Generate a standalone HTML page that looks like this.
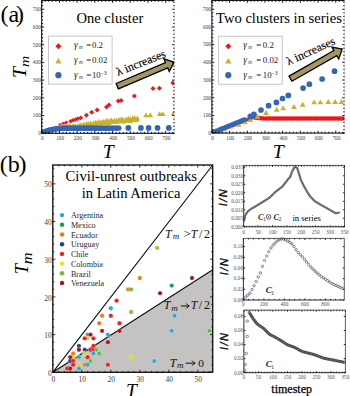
<!DOCTYPE html>
<html><head><meta charset="utf-8"><style>html,body{margin:0;padding:0;background:#fff;width:350px;height:396px;overflow:hidden;position:relative}</style></head>
<body><svg width="350" height="396" viewBox="0 0 350 396" style="position:absolute;left:0;top:0;font-family:&quot;Liberation Serif&quot;,serif"><rect width="350" height="396" fill="#fff"/><defs><clipPath id="ca1"><rect x="41.7" y="0" width="132.8" height="133.3"/></clipPath><clipPath id="ca2"><rect x="211.9" y="0" width="132.7" height="133.1"/></clipPath></defs><text x="0.5" y="22.1" style="font-size:24px">(a<tspan dx="-3.2">)</tspan></text><g clip-path="url(#ca1)"><path d="M59.9 122.8L61.7 124.6L59.9 126.4L58.1 124.6Z" fill="#e8191f"/><path d="M63.3 121.6L65.3 123.6L63.3 125.6L61.3 123.6Z" fill="#e8191f"/><path d="M66.2 120.4L68.3 122.5L66.2 124.6L64.1 122.5Z" fill="#e8191f"/><path d="M70.6 118.9L72.9 121.2L70.6 123.5L68.3 121.2Z" fill="#e8191f"/><path d="M73 118L75.3 120.3L73 122.6L70.7 120.3Z" fill="#e8191f"/><path d="M75.4 117.3L77.7 119.6L75.4 121.9L73.1 119.6Z" fill="#e8191f"/><path d="M77.8 116.3L80.2 118.7L77.8 121.1L75.4 118.7Z" fill="#e8191f"/><path d="M80.8 115.4L83.2 117.8L80.8 120.2L78.4 117.8Z" fill="#e8191f"/><path d="M86.4 112.7L88.9 115.2L86.4 117.7L83.9 115.2Z" fill="#e8191f"/><path d="M91.7 109.8L94.2 112.3L91.7 114.8L89.2 112.3Z" fill="#e8191f"/><path d="M97.2 107.4L99.7 109.9L97.2 112.4L94.7 109.9Z" fill="#e8191f"/><path d="M106.5 104.6L109 107.1L106.5 109.6L104 107.1Z" fill="#e8191f"/><path d="M109 102.6L111.5 105.1L109 107.6L106.5 105.1Z" fill="#e8191f"/><path d="M118.3 98.4L120.8 100.9L118.3 103.4L115.8 100.9Z" fill="#e8191f"/><path d="M121.1 98.1L123.6 100.6L121.1 103.1L118.6 100.6Z" fill="#e8191f"/><path d="M134.3 93.5L136.8 96L134.3 98.5L131.8 96Z" fill="#e8191f"/><path d="M153 86L155.5 88.5L153 91L150.5 88.5Z" fill="#e8191f"/><path d="M159.4 85.7L161.9 88.2L159.4 90.7L156.9 88.2Z" fill="#e8191f"/><path d="M172.8 80.5L175.3 83L172.8 85.5L170.3 83Z" fill="#e8191f"/><path d="M59.24 123.8L61.94 128.6L56.54 128.6Z" fill="#c9b22a"/><path d="M59.44 123.8L62.14 128.6L56.74 128.6Z" fill="#c9b22a"/><path d="M61.72 123.8L64.42 128.6L59.02 128.6Z" fill="#c9b22a"/><path d="M61.27 123.8L63.97 128.6L58.57 128.6Z" fill="#c9b22a"/><path d="M63.75 123.8L66.45 128.6L61.05 128.6Z" fill="#c9b22a"/><path d="M63.21 123.8L65.91 128.6L60.51 128.6Z" fill="#c9b22a"/><path d="M65.65 123.8L68.35 128.6L62.95 128.6Z" fill="#c9b22a"/><path d="M65.97 123.8L68.67 128.6L63.27 128.6Z" fill="#c9b22a"/><path d="M67.92 123.8L70.62 128.6L65.22 128.6Z" fill="#c9b22a"/><path d="M68.62 123.8L71.32 128.6L65.92 128.6Z" fill="#c9b22a"/><path d="M70.16 123.8L72.86 128.6L67.46 128.6Z" fill="#c9b22a"/><path d="M70.14 123.8L72.84 128.6L67.44 128.6Z" fill="#c9b22a"/><path d="M72.43 123.8L75.13 128.6L69.73 128.6Z" fill="#c9b22a"/><path d="M73.17 123.8L75.87 128.6L70.47 128.6Z" fill="#c9b22a"/><path d="M74.82 123.25L77.52 128.05L72.12 128.05Z" fill="#c9b22a"/><path d="M75.47 123.8L78.17 128.6L72.77 128.6Z" fill="#c9b22a"/><path d="M77.86 122.9L80.56 127.7L75.16 127.7Z" fill="#c9b22a"/><path d="M77.58 123.8L80.28 128.6L74.88 128.6Z" fill="#c9b22a"/><path d="M80.14 122.33L82.84 127.13L77.44 127.13Z" fill="#c9b22a"/><path d="M80.17 123.8L82.87 128.6L77.47 128.6Z" fill="#c9b22a"/><path d="M81.8 122.51L84.5 127.31L79.1 127.31Z" fill="#c9b22a"/><path d="M81.67 123.78L84.37 128.58L78.97 128.58Z" fill="#c9b22a"/><path d="M83.87 121.25L86.57 126.05L81.17 126.05Z" fill="#c9b22a"/><path d="M84.4 123.21L87.1 128.01L81.7 128.01Z" fill="#c9b22a"/><path d="M86.78 120.64L89.48 125.44L84.08 125.44Z" fill="#c9b22a"/><path d="M86.41 122.78L89.11 127.58L83.71 127.58Z" fill="#c9b22a"/><path d="M88.88 121.04L91.58 125.84L86.18 125.84Z" fill="#c9b22a"/><path d="M88.88 122.34L91.58 127.14L86.18 127.14Z" fill="#c9b22a"/><path d="M90.76 120.51L93.46 125.31L88.06 125.31Z" fill="#c9b22a"/><path d="M90.72 122.58L93.42 127.38L88.02 127.38Z" fill="#c9b22a"/><path d="M93.84 120.14L96.54 124.94L91.14 124.94Z" fill="#c9b22a"/><path d="M93.79 121.21L96.49 126.01L91.09 126.01Z" fill="#c9b22a"/><path d="M95.88 119.43L98.58 124.23L93.18 124.23Z" fill="#c9b22a"/><path d="M95.35 120.88L98.05 125.68L92.65 125.68Z" fill="#c9b22a"/><path d="M98.56 118.95L101.26 123.75L95.86 123.75Z" fill="#c9b22a"/><path d="M98.36 120.77L101.06 125.57L95.66 125.57Z" fill="#c9b22a"/><path d="M100.84 119.41L103.54 124.21L98.14 124.21Z" fill="#c9b22a"/><path d="M100.25 120.62L102.95 125.42L97.55 125.42Z" fill="#c9b22a"/><path d="M102.98 118.74L105.68 123.54L100.28 123.54Z" fill="#c9b22a"/><path d="M102.95 120.12L105.65 124.92L100.25 124.92Z" fill="#c9b22a"/><path d="M105.36 118.75L108.06 123.55L102.66 123.55Z" fill="#c9b22a"/><path d="M105.45 119.79L108.15 124.59L102.75 124.59Z" fill="#c9b22a"/><path d="M107.14 117.79L109.84 122.59L104.44 122.59Z" fill="#c9b22a"/><path d="M107.72 120.11L110.42 124.91L105.02 124.91Z" fill="#c9b22a"/><path d="M110.02 117.78L112.72 122.58L107.32 122.58Z" fill="#c9b22a"/><path d="M109.41 119.79L112.11 124.59L106.71 124.59Z" fill="#c9b22a"/><path d="M111.58 117.53L114.28 122.33L108.88 122.33Z" fill="#c9b22a"/><path d="M111.55 119.09L114.25 123.89L108.85 123.89Z" fill="#c9b22a"/><path d="M114.7 117.67L117.4 122.47L112 122.47Z" fill="#c9b22a"/><path d="M113.75 118.94L116.45 123.74L111.05 123.74Z" fill="#c9b22a"/><path d="M116.53 117.74L119.23 122.54L113.83 122.54Z" fill="#c9b22a"/><path d="M116.24 118.96L118.94 123.76L113.54 123.76Z" fill="#c9b22a"/><path d="M119.13 117.11L121.83 121.91L116.43 121.91Z" fill="#c9b22a"/><path d="M118.72 118.78L121.42 123.58L116.02 123.58Z" fill="#c9b22a"/><path d="M121.52 116.35L124.22 121.15L118.82 121.15Z" fill="#c9b22a"/><path d="M121.09 118.12L123.79 122.92L118.39 122.92Z" fill="#c9b22a"/><path d="M123.03 116.9L125.73 121.7L120.33 121.7Z" fill="#c9b22a"/><path d="M123.85 118.59L126.55 123.39L121.15 123.39Z" fill="#c9b22a"/><path d="M125.99 116.46L128.69 121.26L123.29 121.26Z" fill="#c9b22a"/><path d="M125.63 117.74L128.33 122.54L122.93 122.54Z" fill="#c9b22a"/><path d="M128.34 115.75L131.04 120.55L125.64 120.55Z" fill="#c9b22a"/><path d="M127.95 117.69L130.65 122.49L125.25 122.49Z" fill="#c9b22a"/><path d="M130.65 116.37L133.35 121.17L127.95 121.17Z" fill="#c9b22a"/><path d="M130.25 118.14L132.95 122.94L127.55 122.94Z" fill="#c9b22a"/><path d="M132.83 115.6L135.53 120.4L130.13 120.4Z" fill="#c9b22a"/><path d="M132.39 117.39L135.09 122.19L129.69 122.19Z" fill="#c9b22a"/><path d="M134.55 115.26L137.25 120.06L131.85 120.06Z" fill="#c9b22a"/><path d="M135.39 117.04L138.09 121.84L132.69 121.84Z" fill="#c9b22a"/><path d="M137.33 115.57L140.03 120.37L134.63 120.37Z" fill="#c9b22a"/><path d="M137.04 116.91L139.74 121.71L134.34 121.71Z" fill="#c9b22a"/><path d="M146 112.5L148.9 117.3L143.1 117.3Z" fill="#c9b22a"/><path d="M150.3 112.5L153.2 117.3L147.4 117.3Z" fill="#c9b22a"/><path d="M159.7 111.2L162.6 116L156.8 116Z" fill="#c9b22a"/><path d="M162.7 111.2L165.6 116L159.8 116Z" fill="#c9b22a"/><path d="M173.5 110.5L176.4 115.3L170.6 115.3Z" fill="#c9b22a"/><circle cx="42.2" cy="132.9" r="2.7" fill="#3565b5"/><circle cx="43.5" cy="132.43" r="2.7" fill="#3565b5"/><circle cx="44.8" cy="131.91" r="2.7" fill="#3565b5"/><circle cx="46.1" cy="131.31" r="2.7" fill="#3565b5"/><circle cx="47.4" cy="130.74" r="2.7" fill="#3565b5"/><circle cx="48.7" cy="130.38" r="2.7" fill="#3565b5"/><circle cx="50" cy="130.01" r="2.7" fill="#3565b5"/><circle cx="51.3" cy="129.64" r="2.7" fill="#3565b5"/><circle cx="52.6" cy="129.38" r="2.7" fill="#3565b5"/><circle cx="53.9" cy="129.17" r="2.7" fill="#3565b5"/><circle cx="55.2" cy="128.97" r="2.7" fill="#3565b5"/><circle cx="56.5" cy="128.78" r="2.7" fill="#3565b5"/><circle cx="57.8" cy="128.67" r="2.7" fill="#3565b5"/><circle cx="59.1" cy="128.56" r="2.7" fill="#3565b5"/><circle cx="60.4" cy="128.44" r="2.7" fill="#3565b5"/><circle cx="61.7" cy="128.37" r="2.7" fill="#3565b5"/><circle cx="63" cy="128.31" r="2.7" fill="#3565b5"/><circle cx="64.3" cy="128.25" r="2.7" fill="#3565b5"/><circle cx="65.6" cy="128.2" r="2.7" fill="#3565b5"/><circle cx="66.9" cy="128.2" r="2.7" fill="#3565b5"/><circle cx="68.2" cy="128.2" r="2.7" fill="#3565b5"/><circle cx="69.5" cy="128.19" r="2.7" fill="#3565b5"/><circle cx="70.8" cy="128.19" r="2.7" fill="#3565b5"/><circle cx="72.1" cy="128.19" r="2.7" fill="#3565b5"/><circle cx="73.4" cy="128.19" r="2.7" fill="#3565b5"/><circle cx="74.7" cy="128.18" r="2.7" fill="#3565b5"/><circle cx="76" cy="128.18" r="2.7" fill="#3565b5"/><circle cx="77.3" cy="128.18" r="2.7" fill="#3565b5"/><circle cx="78.6" cy="128.18" r="2.7" fill="#3565b5"/><circle cx="79.9" cy="128.17" r="2.7" fill="#3565b5"/><circle cx="81.2" cy="128.17" r="2.7" fill="#3565b5"/><circle cx="82.5" cy="128.17" r="2.7" fill="#3565b5"/><circle cx="83.8" cy="128.17" r="2.7" fill="#3565b5"/><circle cx="85.1" cy="128.17" r="2.7" fill="#3565b5"/><circle cx="86.4" cy="128.16" r="2.7" fill="#3565b5"/><circle cx="87.7" cy="128.16" r="2.7" fill="#3565b5"/><circle cx="89" cy="128.16" r="2.7" fill="#3565b5"/><circle cx="90.3" cy="128.16" r="2.7" fill="#3565b5"/><circle cx="91.6" cy="128.15" r="2.7" fill="#3565b5"/><circle cx="92.9" cy="128.15" r="2.7" fill="#3565b5"/><circle cx="94.2" cy="128.15" r="2.7" fill="#3565b5"/><circle cx="95.5" cy="128.15" r="2.7" fill="#3565b5"/><circle cx="96.8" cy="128.15" r="2.7" fill="#3565b5"/><circle cx="98.1" cy="128.14" r="2.7" fill="#3565b5"/><circle cx="99.4" cy="128.14" r="2.7" fill="#3565b5"/><circle cx="100.7" cy="128.14" r="2.7" fill="#3565b5"/><circle cx="102" cy="128.14" r="2.7" fill="#3565b5"/><circle cx="103.3" cy="128.13" r="2.7" fill="#3565b5"/><circle cx="104.6" cy="128.13" r="2.7" fill="#3565b5"/><circle cx="105.9" cy="128.13" r="2.7" fill="#3565b5"/><circle cx="107.2" cy="128.13" r="2.7" fill="#3565b5"/><circle cx="108.5" cy="128.13" r="2.7" fill="#3565b5"/><circle cx="109.8" cy="128.12" r="2.7" fill="#3565b5"/><circle cx="111.1" cy="128.12" r="2.7" fill="#3565b5"/><circle cx="112.4" cy="128.12" r="2.7" fill="#3565b5"/><circle cx="113.7" cy="128.12" r="2.7" fill="#3565b5"/><circle cx="115" cy="128.11" r="2.7" fill="#3565b5"/><circle cx="116.3" cy="128.11" r="2.7" fill="#3565b5"/><circle cx="117.6" cy="128.11" r="2.7" fill="#3565b5"/><circle cx="118.9" cy="128.11" r="2.7" fill="#3565b5"/><circle cx="128.3" cy="127.9" r="2.85" fill="#3565b5"/><circle cx="140.9" cy="127.9" r="2.85" fill="#3565b5"/><circle cx="148.6" cy="127.9" r="2.85" fill="#3565b5"/><circle cx="157.5" cy="127.9" r="2.85" fill="#3565b5"/><circle cx="168.8" cy="127.9" r="2.85" fill="#3565b5"/></g><rect x="48.6" y="36.1" width="63.5" height="48" fill="#fff" stroke="#b8b8b8" stroke-width="0.8"/><path d="M58.4 43.2L61.4 46.2L58.4 49.2L55.4 46.2Z" fill="#e8191f"/><path d="M58.4 58L61.6 63.4L55.2 63.4Z" fill="#c9b22a"/><circle cx="58.4" cy="75.2" r="3.1" fill="#3565b5"/><text x="74" y="48.2" style="font-size:9.4px;font-style:italic" fill="#1a1a1a">γ</text><text x="79" y="49.1" style="font-size:5.2px;font-style:italic" fill="#333">m</text><text x="86.2" y="48.2" style="font-size:8.8px" fill="#1a1a1a">=</text><text x="91.9" y="48.2" style="font-size:8.8px" fill="#1a1a1a">0.2</text><text x="74" y="63" style="font-size:9.4px;font-style:italic" fill="#1a1a1a">γ</text><text x="79" y="63.9" style="font-size:5.2px;font-style:italic" fill="#333">m</text><text x="86.2" y="63" style="font-size:8.8px" fill="#1a1a1a">=</text><text x="91.9" y="63" style="font-size:8.8px" fill="#1a1a1a">0.02</text><text x="74" y="78.2" style="font-size:9.4px;font-style:italic" fill="#1a1a1a">γ</text><text x="79" y="79.1" style="font-size:5.2px;font-style:italic" fill="#333">m</text><text x="86.2" y="78.2" style="font-size:8.8px" fill="#1a1a1a">=</text><text x="91.9" y="78.2" style="font-size:8.8px" fill="#1a1a1a">10</text><text x="100.5" y="74.6" style="font-size:5.8px" fill="#1a1a1a">−3</text><path transform="translate(117.3,86.15) rotate(-23)" d="M0 -2.9L53.6 -2.9L53.6 -6.9L61.6 0L53.6 6.9L53.6 2.9L0 2.9Z" fill="#a39566" stroke="#000" stroke-width="1.3" stroke-linejoin="miter"/><text transform="translate(118.0,75.9) rotate(-21.5)" style="font-size:11.9px" stroke="#000" stroke-width="0.15">λ increases</text><path d="M174.5 0.4V133.3" stroke="#d8d8d8" stroke-width="0.8" fill="none"/><path d="M174.5 0.4H41.7V133.3H174.5" stroke="#000" stroke-width="1" fill="none"/><path d="M41.7 133.3v-2.4M41.7 0.4v2.4M45.24 133.3v-1.4M45.24 0.4v1.4M48.78 133.3v-1.4M48.78 0.4v1.4M52.32 133.3v-1.4M52.32 0.4v1.4M55.87 133.3v-1.4M55.87 0.4v1.4M59.41 133.3v-2.4M59.41 0.4v2.4M62.95 133.3v-1.4M62.95 0.4v1.4M66.49 133.3v-1.4M66.49 0.4v1.4M70.03 133.3v-1.4M70.03 0.4v1.4M73.57 133.3v-1.4M73.57 0.4v1.4M77.11 133.3v-2.4M77.11 0.4v2.4M80.65 133.3v-1.4M80.65 0.4v1.4M84.2 133.3v-1.4M84.2 0.4v1.4M87.74 133.3v-1.4M87.74 0.4v1.4M91.28 133.3v-1.4M91.28 0.4v1.4M94.82 133.3v-2.4M94.82 0.4v2.4M98.36 133.3v-1.4M98.36 0.4v1.4M101.9 133.3v-1.4M101.9 0.4v1.4M105.44 133.3v-1.4M105.44 0.4v1.4M108.99 133.3v-1.4M108.99 0.4v1.4M112.53 133.3v-2.4M112.53 0.4v2.4M116.07 133.3v-1.4M116.07 0.4v1.4M119.61 133.3v-1.4M119.61 0.4v1.4M123.15 133.3v-1.4M123.15 0.4v1.4M126.69 133.3v-1.4M126.69 0.4v1.4M130.23 133.3v-2.4M130.23 0.4v2.4M133.77 133.3v-1.4M133.77 0.4v1.4M137.32 133.3v-1.4M137.32 0.4v1.4M140.86 133.3v-1.4M140.86 0.4v1.4M144.4 133.3v-1.4M144.4 0.4v1.4M147.94 133.3v-2.4M147.94 0.4v2.4M151.48 133.3v-1.4M151.48 0.4v1.4M155.02 133.3v-1.4M155.02 0.4v1.4M158.56 133.3v-1.4M158.56 0.4v1.4M162.11 133.3v-1.4M162.11 0.4v1.4M165.65 133.3v-2.4M165.65 0.4v2.4M169.19 133.3v-1.4M169.19 0.4v1.4M172.73 133.3v-1.4M172.73 0.4v1.4M41.7 133.3h2.4M174.5 133.3h-2.4M41.7 129.76h1.4M174.5 129.76h-1.4M41.7 126.21h1.4M174.5 126.21h-1.4M41.7 122.67h1.4M174.5 122.67h-1.4M41.7 119.12h1.4M174.5 119.12h-1.4M41.7 115.58h2.4M174.5 115.58h-2.4M41.7 112.04h1.4M174.5 112.04h-1.4M41.7 108.49h1.4M174.5 108.49h-1.4M41.7 104.95h1.4M174.5 104.95h-1.4M41.7 101.4h1.4M174.5 101.4h-1.4M41.7 97.86h2.4M174.5 97.86h-2.4M41.7 94.32h1.4M174.5 94.32h-1.4M41.7 90.77h1.4M174.5 90.77h-1.4M41.7 87.23h1.4M174.5 87.23h-1.4M41.7 83.68h1.4M174.5 83.68h-1.4M41.7 80.14h2.4M174.5 80.14h-2.4M41.7 76.6h1.4M174.5 76.6h-1.4M41.7 73.05h1.4M174.5 73.05h-1.4M41.7 69.51h1.4M174.5 69.51h-1.4M41.7 65.96h1.4M174.5 65.96h-1.4M41.7 62.42h2.4M174.5 62.42h-2.4M41.7 58.88h1.4M174.5 58.88h-1.4M41.7 55.33h1.4M174.5 55.33h-1.4M41.7 51.79h1.4M174.5 51.79h-1.4M41.7 48.24h1.4M174.5 48.24h-1.4M41.7 44.7h2.4M174.5 44.7h-2.4M41.7 41.16h1.4M174.5 41.16h-1.4M41.7 37.61h1.4M174.5 37.61h-1.4M41.7 34.07h1.4M174.5 34.07h-1.4M41.7 30.52h1.4M174.5 30.52h-1.4M41.7 26.98h2.4M174.5 26.98h-2.4M41.7 23.44h1.4M174.5 23.44h-1.4M41.7 19.89h1.4M174.5 19.89h-1.4M41.7 16.35h1.4M174.5 16.35h-1.4M41.7 12.8h1.4M174.5 12.8h-1.4M41.7 9.26h2.4M174.5 9.26h-2.4M41.7 5.72h1.4M174.5 5.72h-1.4M41.7 2.17h1.4M174.5 2.17h-1.4" stroke="#000" stroke-width="0.9" fill="none"/><text x="40.8" y="135.1" text-anchor="end" fill="#3a3a3a" style="font-size:5.3px;">0</text><text x="40.8" y="117.38" text-anchor="end" fill="#3a3a3a" style="font-size:5.3px;">100</text><text x="40.8" y="99.66" text-anchor="end" fill="#3a3a3a" style="font-size:5.3px;">200</text><text x="40.8" y="81.94" text-anchor="end" fill="#3a3a3a" style="font-size:5.3px;">300</text><text x="40.8" y="64.22" text-anchor="end" fill="#3a3a3a" style="font-size:5.3px;">400</text><text x="40.8" y="46.5" text-anchor="end" fill="#3a3a3a" style="font-size:5.3px;">500</text><text x="40.8" y="28.78" text-anchor="end" fill="#3a3a3a" style="font-size:5.3px;">600</text><text x="40.8" y="11.06" text-anchor="end" fill="#3a3a3a" style="font-size:5.3px;">700</text><text x="42.4" y="140" text-anchor="middle" fill="#3a3a3a" style="font-size:5.3px;">0</text><text x="60.11" y="140" text-anchor="middle" fill="#3a3a3a" style="font-size:5.3px;">100</text><text x="77.81" y="140" text-anchor="middle" fill="#3a3a3a" style="font-size:5.3px;">200</text><text x="95.52" y="140" text-anchor="middle" fill="#3a3a3a" style="font-size:5.3px;">300</text><text x="113.23" y="140" text-anchor="middle" fill="#3a3a3a" style="font-size:5.3px;">400</text><text x="130.93" y="140" text-anchor="middle" fill="#3a3a3a" style="font-size:5.3px;">500</text><text x="148.64" y="140" text-anchor="middle" fill="#3a3a3a" style="font-size:5.3px;">600</text><text x="166.35" y="140" text-anchor="middle" fill="#3a3a3a" style="font-size:5.3px;">700</text><text x="76.4" y="23.2" text-anchor="start" fill="#000" style="font-size:14.6px;">One cluster</text><g clip-path="url(#ca2)"><path d="M212.5 131.72L214.6 133.82L212.5 135.92L210.4 133.82Z" fill="#e8191f"/><path d="M214.3 130.99L216.4 133.09L214.3 135.19L212.2 133.09Z" fill="#e8191f"/><path d="M216.1 130.26L218.2 132.36L216.1 134.46L214 132.36Z" fill="#e8191f"/><path d="M217.9 129.53L220 131.63L217.9 133.73L215.8 131.63Z" fill="#e8191f"/><path d="M219.7 128.8L221.8 130.9L219.7 133L217.6 130.9Z" fill="#e8191f"/><path d="M221.5 128.07L223.6 130.17L221.5 132.27L219.4 130.17Z" fill="#e8191f"/><path d="M223.3 127.34L225.4 129.44L223.3 131.54L221.2 129.44Z" fill="#e8191f"/><path d="M225.1 126.62L227.2 128.72L225.1 130.82L223 128.72Z" fill="#e8191f"/><path d="M226.9 125.89L229 127.99L226.9 130.09L224.8 127.99Z" fill="#e8191f"/><path d="M228.7 125.16L230.8 127.26L228.7 129.36L226.6 127.26Z" fill="#e8191f"/><path d="M230.5 124.43L232.6 126.53L230.5 128.63L228.4 126.53Z" fill="#e8191f"/><path d="M232.3 123.7L234.4 125.8L232.3 127.9L230.2 125.8Z" fill="#e8191f"/><path d="M234.1 122.97L236.2 125.07L234.1 127.17L232 125.07Z" fill="#e8191f"/><path d="M235.9 122.24L238 124.34L235.9 126.44L233.8 124.34Z" fill="#e8191f"/><path d="M237.7 121.51L239.8 123.61L237.7 125.71L235.6 123.61Z" fill="#e8191f"/><path d="M239.5 120.78L241.6 122.88L239.5 124.98L237.4 122.88Z" fill="#e8191f"/><path d="M241.3 120.05L243.4 122.15L241.3 124.25L239.2 122.15Z" fill="#e8191f"/><path d="M243.1 119.33L245.2 121.43L243.1 123.53L241 121.43Z" fill="#e8191f"/><path d="M244.9 118.6L247 120.7L244.9 122.8L242.8 120.7Z" fill="#e8191f"/><path d="M246.7 117.87L248.8 119.97L246.7 122.07L244.6 119.97Z" fill="#e8191f"/><path d="M248.5 117.14L250.6 119.24L248.5 121.34L246.4 119.24Z" fill="#e8191f"/><path d="M250.3 116.41L252.4 118.51L250.3 120.61L248.2 118.51Z" fill="#e8191f"/><path d="M252.1 115.68L254.2 117.78L252.1 119.88L250 117.78Z" fill="#e8191f"/><path d="M254.5 115.1L257 117.6L254.5 120.1L252 117.6Z" fill="#e8191f"/><path d="M256 115.25L258.5 117.75L256 120.25L253.5 117.75Z" fill="#e8191f"/><path d="M257.5 115.4L260 117.9L257.5 120.4L255 117.9Z" fill="#e8191f"/><path d="M259 115.55L261.5 118.05L259 120.55L256.5 118.05Z" fill="#e8191f"/><path d="M260.5 115.7L263 118.2L260.5 120.7L258 118.2Z" fill="#e8191f"/><path d="M262 115.85L264.5 118.35L262 120.85L259.5 118.35Z" fill="#e8191f"/><path d="M263.5 115.9L266 118.4L263.5 120.9L261 118.4Z" fill="#e8191f"/><path d="M265 115.9L267.5 118.4L265 120.9L262.5 118.4Z" fill="#e8191f"/><path d="M266.5 115.9L269 118.4L266.5 120.9L264 118.4Z" fill="#e8191f"/><path d="M268 115.9L270.5 118.4L268 120.9L265.5 118.4Z" fill="#e8191f"/><path d="M269.5 115.9L272 118.4L269.5 120.9L267 118.4Z" fill="#e8191f"/><path d="M271 115.9L273.5 118.4L271 120.9L268.5 118.4Z" fill="#e8191f"/><path d="M272.5 115.9L275 118.4L272.5 120.9L270 118.4Z" fill="#e8191f"/><path d="M274 115.9L276.5 118.4L274 120.9L271.5 118.4Z" fill="#e8191f"/><path d="M275.5 115.9L278 118.4L275.5 120.9L273 118.4Z" fill="#e8191f"/><path d="M277 115.9L279.5 118.4L277 120.9L274.5 118.4Z" fill="#e8191f"/><path d="M278.5 115.9L281 118.4L278.5 120.9L276 118.4Z" fill="#e8191f"/><path d="M280 115.9L282.5 118.4L280 120.9L277.5 118.4Z" fill="#e8191f"/><path d="M281.5 115.9L284 118.4L281.5 120.9L279 118.4Z" fill="#e8191f"/><path d="M283 115.9L285.5 118.4L283 120.9L280.5 118.4Z" fill="#e8191f"/><path d="M284.5 115.9L287 118.4L284.5 120.9L282 118.4Z" fill="#e8191f"/><path d="M286 115.9L288.5 118.4L286 120.9L283.5 118.4Z" fill="#e8191f"/><path d="M287.5 115.9L290 118.4L287.5 120.9L285 118.4Z" fill="#e8191f"/><path d="M289 115.9L291.5 118.4L289 120.9L286.5 118.4Z" fill="#e8191f"/><path d="M290.5 115.9L293 118.4L290.5 120.9L288 118.4Z" fill="#e8191f"/><path d="M292 115.9L294.5 118.4L292 120.9L289.5 118.4Z" fill="#e8191f"/><path d="M293.5 115.9L296 118.4L293.5 120.9L291 118.4Z" fill="#e8191f"/><path d="M295 115.9L297.5 118.4L295 120.9L292.5 118.4Z" fill="#e8191f"/><path d="M296.5 115.9L299 118.4L296.5 120.9L294 118.4Z" fill="#e8191f"/><path d="M298 115.9L300.5 118.4L298 120.9L295.5 118.4Z" fill="#e8191f"/><path d="M299.5 115.9L302 118.4L299.5 120.9L297 118.4Z" fill="#e8191f"/><path d="M301 115.9L303.5 118.4L301 120.9L298.5 118.4Z" fill="#e8191f"/><path d="M302.5 115.9L305 118.4L302.5 120.9L300 118.4Z" fill="#e8191f"/><path d="M304 115.9L306.5 118.4L304 120.9L301.5 118.4Z" fill="#e8191f"/><path d="M305.5 115.9L308 118.4L305.5 120.9L303 118.4Z" fill="#e8191f"/><path d="M307 115.9L309.5 118.4L307 120.9L304.5 118.4Z" fill="#e8191f"/><path d="M308.5 115.9L311 118.4L308.5 120.9L306 118.4Z" fill="#e8191f"/><path d="M310 115.9L312.5 118.4L310 120.9L307.5 118.4Z" fill="#e8191f"/><path d="M311.5 115.9L314 118.4L311.5 120.9L309 118.4Z" fill="#e8191f"/><path d="M313 115.9L315.5 118.4L313 120.9L310.5 118.4Z" fill="#e8191f"/><path d="M314.5 115.9L317 118.4L314.5 120.9L312 118.4Z" fill="#e8191f"/><path d="M316 115.9L318.5 118.4L316 120.9L313.5 118.4Z" fill="#e8191f"/><path d="M317.5 115.9L320 118.4L317.5 120.9L315 118.4Z" fill="#e8191f"/><path d="M319 115.9L321.5 118.4L319 120.9L316.5 118.4Z" fill="#e8191f"/><path d="M320.5 115.9L323 118.4L320.5 120.9L318 118.4Z" fill="#e8191f"/><path d="M322 115.9L324.5 118.4L322 120.9L319.5 118.4Z" fill="#e8191f"/><path d="M323.5 115.9L326 118.4L323.5 120.9L321 118.4Z" fill="#e8191f"/><path d="M325 115.9L327.5 118.4L325 120.9L322.5 118.4Z" fill="#e8191f"/><path d="M326.5 115.9L329 118.4L326.5 120.9L324 118.4Z" fill="#e8191f"/><path d="M328 115.9L330.5 118.4L328 120.9L325.5 118.4Z" fill="#e8191f"/><path d="M329.5 115.9L332 118.4L329.5 120.9L327 118.4Z" fill="#e8191f"/><path d="M331 115.9L333.5 118.4L331 120.9L328.5 118.4Z" fill="#e8191f"/><path d="M332.5 115.9L335 118.4L332.5 120.9L330 118.4Z" fill="#e8191f"/><path d="M334 115.9L336.5 118.4L334 120.9L331.5 118.4Z" fill="#e8191f"/><path d="M335.5 115.9L338 118.4L335.5 120.9L333 118.4Z" fill="#e8191f"/><path d="M337 115.9L339.5 118.4L337 120.9L334.5 118.4Z" fill="#e8191f"/><path d="M338.5 115.9L341 118.4L338.5 120.9L336 118.4Z" fill="#e8191f"/><path d="M340 115.9L342.5 118.4L340 120.9L337.5 118.4Z" fill="#e8191f"/><path d="M341.5 115.9L344 118.4L341.5 120.9L339 118.4Z" fill="#e8191f"/><path d="M343 115.9L345.5 118.4L343 120.9L340.5 118.4Z" fill="#e8191f"/><path d="M344.5 115.9L347 118.4L344.5 120.9L342 118.4Z" fill="#e8191f"/><path d="M214.5 130.81L217.1 135.31L211.9 135.31Z" fill="#c9b22a"/><path d="M219.5 128.78L222.1 133.28L216.9 133.28Z" fill="#c9b22a"/><path d="M224.3 126.84L226.9 131.34L221.7 131.34Z" fill="#c9b22a"/><path d="M231.4 123.96L234 128.46L228.8 128.46Z" fill="#c9b22a"/><path d="M238.6 121.93L241.5 126.83L235.7 126.83Z" fill="#c9b22a"/><path d="M245 119.23L247.9 124.13L242.1 124.13Z" fill="#c9b22a"/><path d="M250.3 117.13L253.2 122.03L247.4 122.03Z" fill="#c9b22a"/><path d="M257.4 113.83L260.3 118.73L254.5 118.73Z" fill="#c9b22a"/><path d="M266 110.03L268.9 114.93L263.1 114.93Z" fill="#c9b22a"/><path d="M276.7 106.73L279.6 111.63L273.8 111.63Z" fill="#c9b22a"/><path d="M283.1 105.33L286 110.23L280.2 110.23Z" fill="#c9b22a"/><path d="M294 104.03L296.9 108.93L291.1 108.93Z" fill="#c9b22a"/><path d="M302.7 101.73L305.6 106.63L299.8 106.63Z" fill="#c9b22a"/><path d="M314.1 99.43L317 104.33L311.2 104.33Z" fill="#c9b22a"/><path d="M320.3 99.43L323.2 104.33L317.4 104.33Z" fill="#c9b22a"/><path d="M328.3 99.03L331.2 103.93L325.4 103.93Z" fill="#c9b22a"/><path d="M335.1 99.03L338 103.93L332.2 103.93Z" fill="#c9b22a"/><path d="M341.3 99.03L344.2 103.93L338.4 103.93Z" fill="#c9b22a"/><circle cx="212.3" cy="132.7" r="2.45" fill="#3565b5"/><circle cx="214" cy="132.01" r="2.45" fill="#3565b5"/><circle cx="215.7" cy="131.32" r="2.45" fill="#3565b5"/><circle cx="217.4" cy="130.63" r="2.45" fill="#3565b5"/><circle cx="219.1" cy="129.95" r="2.45" fill="#3565b5"/><circle cx="220.8" cy="129.26" r="2.45" fill="#3565b5"/><circle cx="222.5" cy="128.57" r="2.45" fill="#3565b5"/><circle cx="224.2" cy="127.88" r="2.45" fill="#3565b5"/><circle cx="225.9" cy="127.19" r="2.45" fill="#3565b5"/><circle cx="227.6" cy="126.5" r="2.45" fill="#3565b5"/><circle cx="229.3" cy="125.82" r="2.45" fill="#3565b5"/><circle cx="231" cy="125.13" r="2.45" fill="#3565b5"/><circle cx="232.7" cy="124.44" r="2.45" fill="#3565b5"/><circle cx="234.4" cy="123.75" r="2.45" fill="#3565b5"/><circle cx="236.1" cy="123.06" r="2.45" fill="#3565b5"/><circle cx="237.8" cy="122.37" r="2.45" fill="#3565b5"/><circle cx="239.5" cy="121.68" r="2.45" fill="#3565b5"/><circle cx="241.2" cy="121" r="2.45" fill="#3565b5"/><circle cx="242.9" cy="120.31" r="2.45" fill="#3565b5"/><circle cx="244.6" cy="119.62" r="2.45" fill="#3565b5"/><circle cx="250.3" cy="116.4" r="2.85" fill="#3565b5"/><circle cx="253.9" cy="114.3" r="2.85" fill="#3565b5"/><circle cx="261" cy="110" r="2.85" fill="#3565b5"/><circle cx="268.6" cy="105.7" r="2.85" fill="#3565b5"/><circle cx="276.4" cy="102.4" r="2.85" fill="#3565b5"/><circle cx="282.5" cy="98.5" r="2.85" fill="#3565b5"/><circle cx="288.3" cy="95.4" r="2.85" fill="#3565b5"/><circle cx="303.1" cy="88.1" r="2.85" fill="#3565b5"/><circle cx="309.3" cy="84.2" r="2.85" fill="#3565b5"/><circle cx="322.1" cy="79" r="2.85" fill="#3565b5"/><circle cx="334.5" cy="71.2" r="2.85" fill="#3565b5"/></g><rect x="218.7" y="36.2" width="63.5" height="48" fill="#fff" stroke="#b8b8b8" stroke-width="0.8"/><path d="M228.3 43.2L231.3 46.2L228.3 49.2L225.3 46.2Z" fill="#e8191f"/><path d="M228.3 58L231.5 63.4L225.1 63.4Z" fill="#c9b22a"/><circle cx="228.3" cy="75.2" r="3.1" fill="#3565b5"/><text x="243.3" y="48.2" style="font-size:9.4px;font-style:italic" fill="#1a1a1a">γ</text><text x="248.3" y="49.1" style="font-size:5.2px;font-style:italic" fill="#333">m</text><text x="256.14" y="48.2" style="font-size:8.8px" fill="#1a1a1a">=</text><text x="262.8" y="48.2" style="font-size:8.8px" fill="#1a1a1a">0.2</text><text x="243.3" y="63" style="font-size:9.4px;font-style:italic" fill="#1a1a1a">γ</text><text x="248.3" y="63.9" style="font-size:5.2px;font-style:italic" fill="#333">m</text><text x="256.14" y="63" style="font-size:8.8px" fill="#1a1a1a">=</text><text x="262.8" y="63" style="font-size:8.8px" fill="#1a1a1a">0.02</text><text x="243.3" y="78.2" style="font-size:9.4px;font-style:italic" fill="#1a1a1a">γ</text><text x="248.3" y="79.1" style="font-size:5.2px;font-style:italic" fill="#333">m</text><text x="256.14" y="78.2" style="font-size:8.8px" fill="#1a1a1a">=</text><text x="262.8" y="78.2" style="font-size:8.8px" fill="#1a1a1a">10</text><text x="271.4" y="74.6" style="font-size:5.8px" fill="#1a1a1a">−3</text><path transform="translate(290.5,78.7) rotate(-29.8)" d="M0 -2.9L51.6 -2.9L51.6 -6.9L59.6 0L51.6 6.9L51.6 2.9L0 2.9Z" fill="#a39566" stroke="#000" stroke-width="1.3" stroke-linejoin="miter"/><text transform="translate(288.6,65.4) rotate(-24.5)" style="font-size:11.8px" stroke="#000" stroke-width="0.15">λ increases</text><path d="M344.6 0.4V133.1" stroke="#d8d8d8" stroke-width="0.8" fill="none"/><path d="M344.6 0.4H211.9V133.1H344.6" stroke="#000" stroke-width="1" fill="none"/><path d="M211.9 133.1v-2.4M211.9 0.4v2.4M215.44 133.1v-1.4M215.44 0.4v1.4M218.98 133.1v-1.4M218.98 0.4v1.4M222.52 133.1v-1.4M222.52 0.4v1.4M226.05 133.1v-1.4M226.05 0.4v1.4M229.59 133.1v-2.4M229.59 0.4v2.4M233.13 133.1v-1.4M233.13 0.4v1.4M236.67 133.1v-1.4M236.67 0.4v1.4M240.21 133.1v-1.4M240.21 0.4v1.4M243.75 133.1v-1.4M243.75 0.4v1.4M247.29 133.1v-2.4M247.29 0.4v2.4M250.83 133.1v-1.4M250.83 0.4v1.4M254.36 133.1v-1.4M254.36 0.4v1.4M257.9 133.1v-1.4M257.9 0.4v1.4M261.44 133.1v-1.4M261.44 0.4v1.4M264.98 133.1v-2.4M264.98 0.4v2.4M268.52 133.1v-1.4M268.52 0.4v1.4M272.06 133.1v-1.4M272.06 0.4v1.4M275.6 133.1v-1.4M275.6 0.4v1.4M279.13 133.1v-1.4M279.13 0.4v1.4M282.67 133.1v-2.4M282.67 0.4v2.4M286.21 133.1v-1.4M286.21 0.4v1.4M289.75 133.1v-1.4M289.75 0.4v1.4M293.29 133.1v-1.4M293.29 0.4v1.4M296.83 133.1v-1.4M296.83 0.4v1.4M300.37 133.1v-2.4M300.37 0.4v2.4M303.91 133.1v-1.4M303.91 0.4v1.4M307.44 133.1v-1.4M307.44 0.4v1.4M310.98 133.1v-1.4M310.98 0.4v1.4M314.52 133.1v-1.4M314.52 0.4v1.4M318.06 133.1v-2.4M318.06 0.4v2.4M321.6 133.1v-1.4M321.6 0.4v1.4M325.14 133.1v-1.4M325.14 0.4v1.4M328.68 133.1v-1.4M328.68 0.4v1.4M332.21 133.1v-1.4M332.21 0.4v1.4M335.75 133.1v-2.4M335.75 0.4v2.4M339.29 133.1v-1.4M339.29 0.4v1.4M342.83 133.1v-1.4M342.83 0.4v1.4M211.9 133.1h2.4M344.6 133.1h-2.4M211.9 129.56h1.4M344.6 129.56h-1.4M211.9 126.02h1.4M344.6 126.02h-1.4M211.9 122.48h1.4M344.6 122.48h-1.4M211.9 118.95h1.4M344.6 118.95h-1.4M211.9 115.41h2.4M344.6 115.41h-2.4M211.9 111.87h1.4M344.6 111.87h-1.4M211.9 108.33h1.4M344.6 108.33h-1.4M211.9 104.79h1.4M344.6 104.79h-1.4M211.9 101.25h1.4M344.6 101.25h-1.4M211.9 97.71h2.4M344.6 97.71h-2.4M211.9 94.17h1.4M344.6 94.17h-1.4M211.9 90.64h1.4M344.6 90.64h-1.4M211.9 87.1h1.4M344.6 87.1h-1.4M211.9 83.56h1.4M344.6 83.56h-1.4M211.9 80.02h2.4M344.6 80.02h-2.4M211.9 76.48h1.4M344.6 76.48h-1.4M211.9 72.94h1.4M344.6 72.94h-1.4M211.9 69.4h1.4M344.6 69.4h-1.4M211.9 65.87h1.4M344.6 65.87h-1.4M211.9 62.33h2.4M344.6 62.33h-2.4M211.9 58.79h1.4M344.6 58.79h-1.4M211.9 55.25h1.4M344.6 55.25h-1.4M211.9 51.71h1.4M344.6 51.71h-1.4M211.9 48.17h1.4M344.6 48.17h-1.4M211.9 44.63h2.4M344.6 44.63h-2.4M211.9 41.09h1.4M344.6 41.09h-1.4M211.9 37.56h1.4M344.6 37.56h-1.4M211.9 34.02h1.4M344.6 34.02h-1.4M211.9 30.48h1.4M344.6 30.48h-1.4M211.9 26.94h2.4M344.6 26.94h-2.4M211.9 23.4h1.4M344.6 23.4h-1.4M211.9 19.86h1.4M344.6 19.86h-1.4M211.9 16.32h1.4M344.6 16.32h-1.4M211.9 12.79h1.4M344.6 12.79h-1.4M211.9 9.25h2.4M344.6 9.25h-2.4M211.9 5.71h1.4M344.6 5.71h-1.4M211.9 2.17h1.4M344.6 2.17h-1.4" stroke="#000" stroke-width="0.9" fill="none"/><text x="211" y="134.9" text-anchor="end" fill="#3a3a3a" style="font-size:5.3px;">0</text><text x="211" y="117.21" text-anchor="end" fill="#3a3a3a" style="font-size:5.3px;">100</text><text x="211" y="99.51" text-anchor="end" fill="#3a3a3a" style="font-size:5.3px;">200</text><text x="211" y="81.82" text-anchor="end" fill="#3a3a3a" style="font-size:5.3px;">300</text><text x="211" y="64.13" text-anchor="end" fill="#3a3a3a" style="font-size:5.3px;">400</text><text x="211" y="46.43" text-anchor="end" fill="#3a3a3a" style="font-size:5.3px;">500</text><text x="211" y="28.74" text-anchor="end" fill="#3a3a3a" style="font-size:5.3px;">600</text><text x="211" y="11.05" text-anchor="end" fill="#3a3a3a" style="font-size:5.3px;">700</text><text x="212.6" y="140" text-anchor="middle" fill="#3a3a3a" style="font-size:5.3px;">0</text><text x="230.29" y="140" text-anchor="middle" fill="#3a3a3a" style="font-size:5.3px;">100</text><text x="247.99" y="140" text-anchor="middle" fill="#3a3a3a" style="font-size:5.3px;">200</text><text x="265.68" y="140" text-anchor="middle" fill="#3a3a3a" style="font-size:5.3px;">300</text><text x="283.37" y="140" text-anchor="middle" fill="#3a3a3a" style="font-size:5.3px;">400</text><text x="301.07" y="140" text-anchor="middle" fill="#3a3a3a" style="font-size:5.3px;">500</text><text x="318.76" y="140" text-anchor="middle" fill="#3a3a3a" style="font-size:5.3px;">600</text><text x="336.45" y="140" text-anchor="middle" fill="#3a3a3a" style="font-size:5.3px;">700</text><text x="216" y="23.2" text-anchor="start" fill="#000" style="font-size:14.6px;">Two clusters in series</text><text transform="translate(26.1,77.9) rotate(-90)" style="font-size:19.7px;font-style:italic">T</text><text transform="translate(29,66.9) rotate(-90) scale(1.15,1)" style="font-size:13.5px;font-style:italic">m</text><text x="102.7" y="157.8" text-anchor="start" fill="#000" style="font-size:19.5px;font-style:italic;">T</text><text x="272.7" y="157.8" text-anchor="start" fill="#000" style="font-size:19.5px;font-style:italic;">T</text><text x="-0.2" y="171.5" style="font-size:24px">(b<tspan dx="-1.2">)</tspan></text><path d="M52.8 372.3L212.7 269.8L212.7 372.3Z" fill="#c5c2c2"/><path d="M52.8 372.3L212.7 165M52.8 372.3L212.7 269.8" stroke="#111" stroke-width="1.15" fill="none"/><g stroke="#fff" stroke-opacity="0.45" stroke-width="0.6"><circle cx="99.2" cy="323.29" r="2.2" fill="#ef7a14"/><circle cx="119.5" cy="323.29" r="2.2" fill="#ee1c24"/><circle cx="102.1" cy="330.83" r="2.2" fill="#b0121c"/><circle cx="119.5" cy="330.83" r="2.2" fill="#b0121c"/><circle cx="87.6" cy="334.6" r="2.2" fill="#29a8e0"/><circle cx="90.5" cy="334.6" r="2.2" fill="#b0121c"/><circle cx="107.9" cy="334.6" r="2.2" fill="#29a8e0"/><circle cx="87.6" cy="338.37" r="2.2" fill="#dcd51e"/><circle cx="84.7" cy="338.37" r="2.2" fill="#ee1c24"/><circle cx="93.4" cy="338.37" r="2.2" fill="#ee1c24"/><circle cx="107.9" cy="342.14" r="2.2" fill="#5cbf3a"/><circle cx="107.9" cy="342.14" r="2.2" fill="#b0121c"/><circle cx="116.6" cy="300.67" r="2.2" fill="#ee1c24"/><circle cx="110.8" cy="308.21" r="2.2" fill="#29a8e0"/><circle cx="131.1" cy="311.98" r="2.2" fill="#5cbf3a"/><circle cx="110.8" cy="315.75" r="2.2" fill="#ee1c24"/><circle cx="102.1" cy="315.75" r="2.2" fill="#ef7a14"/><circle cx="128.2" cy="289.36" r="2.2" fill="#ef7a14"/><circle cx="131.1" cy="289.36" r="2.2" fill="#5cbf3a"/><circle cx="139.8" cy="278.05" r="2.2" fill="#ef7a14"/><circle cx="157.2" cy="247.89" r="2.2" fill="#c8b41a"/><circle cx="171.7" cy="285.59" r="2.2" fill="#15a04a"/><circle cx="192" cy="278.05" r="2.2" fill="#b0121c"/><circle cx="160.1" cy="293.13" r="2.2" fill="#b0121c"/><circle cx="174.6" cy="315.75" r="2.2" fill="#29a8e0"/><circle cx="171.7" cy="330.83" r="2.2" fill="#29a8e0"/><circle cx="209.4" cy="330.83" r="2.2" fill="#5cbf3a"/><circle cx="131.1" cy="357.22" r="2.2" fill="#dcd51e"/><circle cx="154.3" cy="360.99" r="2.2" fill="#29a8e0"/><circle cx="73.1" cy="357.22" r="2.2" fill="#dcd51e"/><circle cx="78.9" cy="345.91" r="2.2" fill="#1f3f99"/><circle cx="78.9" cy="349.68" r="2.2" fill="#b0121c"/><circle cx="84.7" cy="349.68" r="2.2" fill="#1f3f99"/><circle cx="90.5" cy="349.68" r="2.2" fill="#ee1c24"/><circle cx="93.4" cy="349.68" r="2.2" fill="#ee1c24"/><circle cx="96.3" cy="349.68" r="2.2" fill="#5cbf3a"/><circle cx="93.4" cy="345.91" r="2.2" fill="#ee1c24"/><circle cx="73.1" cy="353.45" r="2.2" fill="#ef7a14"/><circle cx="84.7" cy="353.45" r="2.2" fill="#dcd51e"/><circle cx="93.4" cy="353.45" r="2.2" fill="#29a8e0"/><circle cx="99.2" cy="353.45" r="2.2" fill="#5cbf3a"/><circle cx="107.9" cy="364.76" r="2.2" fill="#ee1c24"/><circle cx="70.2" cy="357.22" r="2.2" fill="#b0121c"/><circle cx="78.9" cy="357.22" r="2.2" fill="#29a8e0"/><circle cx="87.6" cy="357.22" r="2.2" fill="#ee1c24"/><circle cx="70.2" cy="360.99" r="2.2" fill="#1f3f99"/><circle cx="73.1" cy="360.99" r="2.2" fill="#ee1c24"/><circle cx="90.5" cy="360.99" r="2.2" fill="#5cbf3a"/><circle cx="73.1" cy="364.76" r="2.2" fill="#ee1c24"/><circle cx="78.9" cy="364.76" r="2.2" fill="#dcd51e"/><circle cx="84.7" cy="364.76" r="2.2" fill="#ef7a14"/><circle cx="87.6" cy="364.76" r="2.2" fill="#29a8e0"/><circle cx="67.3" cy="368.53" r="2.2" fill="#ee1c24"/><circle cx="70.2" cy="368.53" r="2.2" fill="#b0121c"/><circle cx="78.9" cy="368.53" r="2.2" fill="#29a8e0"/></g><circle cx="131.1" cy="311.98" r="1.5" fill="#c2b52a"/><rect x="52.8" y="165" width="159.9" height="207.3" fill="none" stroke="#111" stroke-width="1.35"/><path d="M52.8 372.3v-2.6M52.8 165v2.6M58.6 372.3v-1.4M58.6 165v1.4M64.4 372.3v-1.4M64.4 165v1.4M70.2 372.3v-1.4M70.2 165v1.4M76 372.3v-1.4M76 165v1.4M81.8 372.3v-2.6M81.8 165v2.6M87.6 372.3v-1.4M87.6 165v1.4M93.4 372.3v-1.4M93.4 165v1.4M99.2 372.3v-1.4M99.2 165v1.4M105 372.3v-1.4M105 165v1.4M110.8 372.3v-2.6M110.8 165v2.6M116.6 372.3v-1.4M116.6 165v1.4M122.4 372.3v-1.4M122.4 165v1.4M128.2 372.3v-1.4M128.2 165v1.4M134 372.3v-1.4M134 165v1.4M139.8 372.3v-2.6M139.8 165v2.6M145.6 372.3v-1.4M145.6 165v1.4M151.4 372.3v-1.4M151.4 165v1.4M157.2 372.3v-1.4M157.2 165v1.4M163 372.3v-1.4M163 165v1.4M168.8 372.3v-2.6M168.8 165v2.6M174.6 372.3v-1.4M174.6 165v1.4M180.4 372.3v-1.4M180.4 165v1.4M186.19 372.3v-1.4M186.19 165v1.4M191.99 372.3v-1.4M191.99 165v1.4M197.79 372.3v-2.6M197.79 165v2.6M203.59 372.3v-1.4M203.59 165v1.4M209.39 372.3v-1.4M209.39 165v1.4M52.8 372.3h2.6M212.7 372.3h-2.6M52.8 364.76h1.4M212.7 364.76h-1.4M52.8 357.22h1.4M212.7 357.22h-1.4M52.8 349.69h1.4M212.7 349.69h-1.4M52.8 342.15h1.4M212.7 342.15h-1.4M52.8 334.61h2.6M212.7 334.61h-2.6M52.8 327.07h1.4M212.7 327.07h-1.4M52.8 319.53h1.4M212.7 319.53h-1.4M52.8 311.99h1.4M212.7 311.99h-1.4M52.8 304.46h1.4M212.7 304.46h-1.4M52.8 296.92h2.6M212.7 296.92h-2.6M52.8 289.38h1.4M212.7 289.38h-1.4M52.8 281.84h1.4M212.7 281.84h-1.4M52.8 274.3h1.4M212.7 274.3h-1.4M52.8 266.77h1.4M212.7 266.77h-1.4M52.8 259.23h2.6M212.7 259.23h-2.6M52.8 251.69h1.4M212.7 251.69h-1.4M52.8 244.15h1.4M212.7 244.15h-1.4M52.8 236.61h1.4M212.7 236.61h-1.4M52.8 229.07h1.4M212.7 229.07h-1.4M52.8 221.54h2.6M212.7 221.54h-2.6M52.8 214h1.4M212.7 214h-1.4M52.8 206.46h1.4M212.7 206.46h-1.4M52.8 198.92h1.4M212.7 198.92h-1.4M52.8 191.38h1.4M212.7 191.38h-1.4M52.8 183.85h2.6M212.7 183.85h-2.6M52.8 176.31h1.4M212.7 176.31h-1.4M52.8 168.77h1.4M212.7 168.77h-1.4" stroke="#1a1a1a" stroke-width="0.9" fill="none"/><text x="51.6" y="375.9" text-anchor="end" fill="#3a3a3a" style="font-size:7.4px;">0</text><text x="53.3" y="382.1" text-anchor="middle" fill="#3a3a3a" style="font-size:7.4px;">0</text><text x="51.6" y="338.2" text-anchor="end" fill="#3a3a3a" style="font-size:7.4px;">10</text><text x="82.3" y="382.1" text-anchor="middle" fill="#3a3a3a" style="font-size:7.4px;">10</text><text x="51.6" y="300.5" text-anchor="end" fill="#3a3a3a" style="font-size:7.4px;">20</text><text x="111.3" y="382.1" text-anchor="middle" fill="#3a3a3a" style="font-size:7.4px;">20</text><text x="51.6" y="262.8" text-anchor="end" fill="#3a3a3a" style="font-size:7.4px;">30</text><text x="140.3" y="382.1" text-anchor="middle" fill="#3a3a3a" style="font-size:7.4px;">30</text><text x="51.6" y="225.1" text-anchor="end" fill="#3a3a3a" style="font-size:7.4px;">40</text><text x="169.3" y="382.1" text-anchor="middle" fill="#3a3a3a" style="font-size:7.4px;">40</text><text x="51.6" y="187.4" text-anchor="end" fill="#3a3a3a" style="font-size:7.4px;">50</text><text x="198.3" y="382.1" text-anchor="middle" fill="#3a3a3a" style="font-size:7.4px;">50</text><text x="65.5" y="180.7" text-anchor="start" fill="#000" style="font-size:14.75px;">Civil-unrest outbreaks</text><text x="81.7" y="197.5" text-anchor="start" fill="#000" style="font-size:14.6px;">in Latin America</text><circle cx="62" cy="215.1" r="2.2" fill="#29a8e0"/><text x="70.9" y="218.3" text-anchor="start" fill="#2a2a2a" style="font-size:8.1px;">Argentina</text><circle cx="62" cy="224.8" r="2.2" fill="#15a04a"/><text x="70.9" y="228" text-anchor="start" fill="#2a2a2a" style="font-size:8.1px;">Mexico</text><circle cx="62" cy="234.5" r="2.2" fill="#ef7a14"/><text x="70.9" y="237.7" text-anchor="start" fill="#2a2a2a" style="font-size:8.1px;">Ecuador</text><circle cx="62" cy="244.2" r="2.2" fill="#1f3f99"/><text x="70.9" y="247.4" text-anchor="start" fill="#2a2a2a" style="font-size:8.1px;">Uruguay</text><circle cx="62" cy="253.9" r="2.2" fill="#ee1c24"/><text x="70.9" y="257.1" text-anchor="start" fill="#2a2a2a" style="font-size:8.1px;">Chile</text><circle cx="62" cy="263.6" r="2.2" fill="#ebe01c"/><text x="70.9" y="266.8" text-anchor="start" fill="#2a2a2a" style="font-size:8.1px;">Colombia</text><circle cx="62" cy="273.3" r="2.2" fill="#5cbf3a"/><text x="70.9" y="276.5" text-anchor="start" fill="#2a2a2a" style="font-size:8.1px;">Brazil</text><circle cx="62" cy="283" r="2.2" fill="#b0121c"/><text x="70.9" y="286.2" text-anchor="start" fill="#2a2a2a" style="font-size:8.1px;">Venezuela</text><text x="165" y="237.6" style="font-size:11.9px;font-style:italic;" fill="#111">T</text><text x="172.7" y="239" style="font-size:9px;font-style:italic;" fill="#111">m</text><text x="183.5" y="237.8" style="font-size:13px;" fill="#111">&gt;</text><text x="190.7" y="237.6" style="font-size:11.9px;font-style:italic;" fill="#111">T</text><text x="199.1" y="237.6" style="font-size:11.9px;" fill="#111">/</text><text x="204.1" y="237.6" style="font-size:11.9px;" fill="#111">2</text><text x="163.8" y="309.2" style="font-size:11.9px;font-style:italic;" fill="#111">T</text><text x="171.3" y="310.9" style="font-size:9px;font-style:italic;" fill="#111">m</text><path d="M180.8 306H189" stroke="#111" stroke-width="1" fill="none"/><path d="M186.1 303.4Q187.7 305.4 189.3 306Q187.7 306.6 186.1 308.6" stroke="#111" stroke-width="0.95" fill="none" stroke-linejoin="round"/><text x="190.8" y="309.2" style="font-size:11.9px;font-style:italic;" fill="#111">T</text><text x="198.7" y="309.2" style="font-size:11.9px;" fill="#111">/</text><text x="204" y="309.2" style="font-size:11.9px;" fill="#111">2</text><text x="169.7" y="366.6" style="font-size:11.9px;font-style:italic;" fill="#111">T</text><text x="177" y="368.1" style="font-size:9px;font-style:italic;" fill="#111">m</text><path d="M185.6 363.2H194.9" stroke="#111" stroke-width="1" fill="none"/><path d="M192 360.6Q193.6 362.6 195.2 363.2Q193.6 363.8 192 365.8" stroke="#111" stroke-width="0.95" fill="none" stroke-linejoin="round"/><text x="198.2" y="366.8" style="font-size:11.3px;" fill="#111">0</text><text transform="translate(28.3,274.2) rotate(-90)" style="font-size:18.4px;font-style:italic">T</text><text transform="translate(32.3,264.3) rotate(-90) scale(1.13,1)" style="font-size:14.5px;font-style:italic">m</text><text x="126" y="396.5" text-anchor="start" fill="#000" style="font-size:19.5px;font-style:italic;">T</text><path d="M243.7 165.4H344.5V226.8" fill="none" stroke="#4a4a4a" stroke-width="0.9"/><path d="M243.7 165.4V226.8H344.5" fill="none" stroke="#2a2a2a" stroke-width="1"/><path d="M243.7 226.8v-1.6M243.7 165.4v1.6M246.58 226.8v-1.1M246.58 165.4v1.1M249.46 226.8v-1.1M249.46 165.4v1.1M252.34 226.8v-1.1M252.34 165.4v1.1M255.22 226.8v-1.1M255.22 165.4v1.1M258.1 226.8v-1.6M258.1 165.4v1.6M260.98 226.8v-1.1M260.98 165.4v1.1M263.86 226.8v-1.1M263.86 165.4v1.1M266.74 226.8v-1.1M266.74 165.4v1.1M269.62 226.8v-1.1M269.62 165.4v1.1M272.5 226.8v-1.6M272.5 165.4v1.6M275.38 226.8v-1.1M275.38 165.4v1.1M278.26 226.8v-1.1M278.26 165.4v1.1M281.14 226.8v-1.1M281.14 165.4v1.1M284.02 226.8v-1.1M284.02 165.4v1.1M286.9 226.8v-1.6M286.9 165.4v1.6M289.78 226.8v-1.1M289.78 165.4v1.1M292.66 226.8v-1.1M292.66 165.4v1.1M295.54 226.8v-1.1M295.54 165.4v1.1M298.42 226.8v-1.1M298.42 165.4v1.1M301.3 226.8v-1.6M301.3 165.4v1.6M304.18 226.8v-1.1M304.18 165.4v1.1M307.06 226.8v-1.1M307.06 165.4v1.1M309.94 226.8v-1.1M309.94 165.4v1.1M312.82 226.8v-1.1M312.82 165.4v1.1M315.7 226.8v-1.6M315.7 165.4v1.6M318.58 226.8v-1.1M318.58 165.4v1.1M321.46 226.8v-1.1M321.46 165.4v1.1M324.34 226.8v-1.1M324.34 165.4v1.1M327.22 226.8v-1.1M327.22 165.4v1.1M330.1 226.8v-1.6M330.1 165.4v1.6M332.98 226.8v-1.1M332.98 165.4v1.1M335.86 226.8v-1.1M335.86 165.4v1.1M338.74 226.8v-1.1M338.74 165.4v1.1M341.62 226.8v-1.1M341.62 165.4v1.1M344.5 226.8v-1.6M344.5 165.4v1.6M243.7 226.8h1.6M344.5 226.8h-1.6M243.7 218.3h1.6M344.5 218.3h-1.6M243.7 209.79h1.6M344.5 209.79h-1.6M243.7 201.29h1.6M344.5 201.29h-1.6M243.7 192.78h1.6M344.5 192.78h-1.6M243.7 184.28h1.6M344.5 184.28h-1.6M243.7 175.78h1.6M344.5 175.78h-1.6M243.7 167.27h1.6M344.5 167.27h-1.6" stroke="#111" stroke-width="0.9" fill="none"/><text x="243.1" y="228.6" text-anchor="end" fill="#555" style="font-size:5.3px;">0.000</text><text x="243.1" y="220.1" text-anchor="end" fill="#555" style="font-size:5.3px;">0.005</text><text x="243.1" y="211.59" text-anchor="end" fill="#555" style="font-size:5.3px;">0.010</text><text x="243.1" y="203.09" text-anchor="end" fill="#555" style="font-size:5.3px;">0.015</text><text x="243.1" y="194.58" text-anchor="end" fill="#555" style="font-size:5.3px;">0.020</text><text x="243.1" y="186.08" text-anchor="end" fill="#555" style="font-size:5.3px;">0.025</text><text x="243.1" y="177.58" text-anchor="end" fill="#555" style="font-size:5.3px;">0.030</text><text x="243.1" y="169.07" text-anchor="end" fill="#555" style="font-size:5.3px;">0.035</text><text x="243.7" y="233.9" text-anchor="middle" fill="#555" style="font-size:5.3px;">0</text><text x="258.1" y="233.9" text-anchor="middle" fill="#555" style="font-size:5.3px;">50</text><text x="272.5" y="233.9" text-anchor="middle" fill="#555" style="font-size:5.3px;">100</text><text x="286.9" y="233.9" text-anchor="middle" fill="#555" style="font-size:5.3px;">150</text><text x="301.3" y="233.9" text-anchor="middle" fill="#555" style="font-size:5.3px;">200</text><text x="315.7" y="233.9" text-anchor="middle" fill="#555" style="font-size:5.3px;">250</text><text x="330.1" y="233.9" text-anchor="middle" fill="#555" style="font-size:5.3px;">300</text><text x="344.5" y="233.9" text-anchor="middle" fill="#555" style="font-size:5.3px;">350</text><g fill="none" stroke="#3e414a" stroke-width="0.6"><circle cx="243.9" cy="221" r="0.8"/><circle cx="244.15" cy="219.93" r="0.8"/><circle cx="244.39" cy="218.86" r="0.8"/><circle cx="244.64" cy="217.78" r="0.8"/><circle cx="244.88" cy="216.71" r="0.8"/><circle cx="245.13" cy="215.64" r="0.8"/><circle cx="245.5" cy="214.63" r="0.8"/><circle cx="246.16" cy="213.75" r="0.8"/><circle cx="246.82" cy="212.87" r="0.8"/><circle cx="247.48" cy="211.99" r="0.8"/><circle cx="248.19" cy="211.15" r="0.8"/><circle cx="249.04" cy="210.46" r="0.8"/><circle cx="249.9" cy="209.77" r="0.8"/><circle cx="250.77" cy="209.1" r="0.8"/><circle cx="251.73" cy="208.55" r="0.8"/><circle cx="252.68" cy="208" r="0.8"/><circle cx="253.63" cy="207.45" r="0.8"/><circle cx="254.58" cy="206.9" r="0.8"/><circle cx="255.54" cy="206.35" r="0.8"/><circle cx="256.49" cy="205.8" r="0.8"/><circle cx="257.44" cy="205.25" r="0.8"/><circle cx="258.38" cy="204.68" r="0.8"/><circle cx="259.32" cy="204.1" r="0.8"/><circle cx="260.25" cy="203.52" r="0.8"/><circle cx="261.19" cy="202.94" r="0.8"/><circle cx="262.12" cy="202.36" r="0.8"/><circle cx="263.06" cy="201.78" r="0.8"/><circle cx="263.99" cy="201.2" r="0.8"/><circle cx="264.92" cy="200.62" r="0.8"/><circle cx="265.84" cy="200.01" r="0.8"/><circle cx="266.76" cy="199.41" r="0.8"/><circle cx="267.68" cy="198.8" r="0.8"/><circle cx="268.59" cy="198.19" r="0.8"/><circle cx="269.51" cy="197.59" r="0.8"/><circle cx="270.38" cy="196.92" r="0.8"/><circle cx="271.16" cy="196.14" r="0.8"/><circle cx="271.94" cy="195.36" r="0.8"/><circle cx="272.71" cy="194.59" r="0.8"/><circle cx="273.49" cy="193.81" r="0.8"/><circle cx="274.27" cy="193.03" r="0.8"/><circle cx="275.05" cy="192.25" r="0.8"/><circle cx="275.88" cy="191.54" r="0.8"/><circle cx="276.75" cy="190.87" r="0.8"/><circle cx="277.63" cy="190.2" r="0.8"/><circle cx="278.5" cy="189.54" r="0.8"/><circle cx="279.38" cy="188.87" r="0.8"/><circle cx="280.26" cy="188.21" r="0.8"/><circle cx="281.13" cy="187.54" r="0.8"/><circle cx="282.01" cy="186.87" r="0.8"/><circle cx="282.79" cy="186.12" r="0.8"/><circle cx="283.45" cy="185.24" r="0.8"/><circle cx="284.12" cy="184.36" r="0.8"/><circle cx="284.78" cy="183.49" r="0.8"/><circle cx="285.45" cy="182.61" r="0.8"/><circle cx="286.11" cy="181.73" r="0.8"/><circle cx="286.77" cy="180.85" r="0.8"/><circle cx="287.44" cy="179.98" r="0.8"/><circle cx="288.15" cy="179.14" r="0.8"/><circle cx="288.91" cy="178.34" r="0.8"/><circle cx="289.67" cy="177.55" r="0.8"/><circle cx="290.22" cy="176.62" r="0.8"/><circle cx="290.61" cy="175.59" r="0.8"/><circle cx="291" cy="174.57" r="0.8"/><circle cx="291.39" cy="173.54" r="0.8"/><circle cx="291.79" cy="172.51" r="0.8"/><circle cx="292.18" cy="171.48" r="0.8"/><circle cx="292.64" cy="170.49" r="0.8"/><circle cx="293.19" cy="169.53" r="0.8"/><circle cx="293.73" cy="168.58" r="0.8"/><circle cx="294.28" cy="167.63" r="0.8"/><circle cx="294.95" cy="166.98" r="0.8"/><circle cx="295.99" cy="167.33" r="0.8"/><circle cx="297.04" cy="167.68" r="0.8"/><circle cx="297.41" cy="168.68" r="0.8"/><circle cx="297.75" cy="169.73" r="0.8"/><circle cx="298.08" cy="170.78" r="0.8"/><circle cx="298.42" cy="171.83" r="0.8"/><circle cx="298.74" cy="172.88" r="0.8"/><circle cx="299.06" cy="173.93" r="0.8"/><circle cx="299.38" cy="174.98" r="0.8"/><circle cx="299.7" cy="176.03" r="0.8"/><circle cx="300.02" cy="177.09" r="0.8"/><circle cx="300.34" cy="178.14" r="0.8"/><circle cx="300.66" cy="179.19" r="0.8"/><circle cx="300.98" cy="180.24" r="0.8"/><circle cx="301.47" cy="181.23" r="0.8"/><circle cx="301.97" cy="182.21" r="0.8"/><circle cx="302.47" cy="183.19" r="0.8"/><circle cx="302.97" cy="184.17" r="0.8"/><circle cx="303.46" cy="185.15" r="0.8"/><circle cx="303.96" cy="186.13" r="0.8"/><circle cx="304.48" cy="187.1" r="0.8"/><circle cx="305.02" cy="188.06" r="0.8"/><circle cx="305.56" cy="189.02" r="0.8"/><circle cx="306.1" cy="189.98" r="0.8"/><circle cx="306.64" cy="190.93" r="0.8"/><circle cx="307.18" cy="191.89" r="0.8"/><circle cx="307.77" cy="192.82" r="0.8"/><circle cx="308.38" cy="193.74" r="0.8"/><circle cx="308.99" cy="194.66" r="0.8"/><circle cx="309.59" cy="195.57" r="0.8"/><circle cx="310.2" cy="196.49" r="0.8"/><circle cx="310.92" cy="197.31" r="0.8"/><circle cx="311.71" cy="198.08" r="0.8"/><circle cx="312.5" cy="198.85" r="0.8"/><circle cx="313.28" cy="199.62" r="0.8"/><circle cx="314.07" cy="200.39" r="0.8"/><circle cx="314.85" cy="201.16" r="0.8"/><circle cx="315.73" cy="201.81" r="0.8"/><circle cx="316.68" cy="202.36" r="0.8"/><circle cx="317.63" cy="202.92" r="0.8"/><circle cx="318.58" cy="203.47" r="0.8"/><circle cx="319.53" cy="204.02" r="0.8"/><circle cx="320.49" cy="204.57" r="0.8"/><circle cx="321.44" cy="205.12" r="0.8"/><circle cx="322.4" cy="205.66" r="0.8"/><circle cx="323.36" cy="206.2" r="0.8"/><circle cx="324.32" cy="206.74" r="0.8"/><circle cx="325.27" cy="207.28" r="0.8"/><circle cx="326.23" cy="207.82" r="0.8"/><circle cx="327.18" cy="208.37" r="0.8"/><circle cx="328.13" cy="208.93" r="0.8"/><circle cx="329.09" cy="209.48" r="0.8"/><circle cx="330.04" cy="210.03" r="0.8"/><circle cx="330.99" cy="210.58" r="0.8"/><circle cx="331.94" cy="211.14" r="0.8"/><circle cx="332.88" cy="211.7" r="0.8"/><circle cx="333.83" cy="212.26" r="0.8"/><circle cx="334.78" cy="212.82" r="0.8"/><circle cx="335.74" cy="213.27" r="0.8"/><circle cx="336.82" cy="213.05" r="0.8"/><circle cx="337.9" cy="212.83" r="0.8"/><circle cx="338.98" cy="212.61" r="0.8"/></g><text x="258" y="219.6" style="font-size:8.2px;font-style:italic;font-weight:bold" fill="#222">C</text><text x="263" y="221.2" style="font-size:5.9px" fill="#333">1</text><text x="273.6" y="219.6" style="font-size:8.2px;font-style:italic;font-weight:bold" fill="#222">C</text><text x="278.5" y="221.2" style="font-size:5.9px" fill="#333">2</text><circle cx="268.6" cy="216.9" r="2.3" fill="none" stroke="#333" stroke-width="0.8"/><circle cx="268.6" cy="216.9" r="0.75" fill="#333"/><text x="292.4" y="220.9" text-anchor="start" fill="#000" style="font-size:8.6px;">in series</text><path d="M243.4 238.4H344.3V300" fill="none" stroke="#4a4a4a" stroke-width="0.9"/><path d="M243.4 238.4V300H344.3" fill="none" stroke="#2a2a2a" stroke-width="1"/><path d="M243.4 300v-1.6M243.4 238.4v1.6M248.52 300v-1.1M248.52 238.4v1.1M253.64 300v-1.1M253.64 238.4v1.1M258.77 300v-1.1M258.77 238.4v1.1M263.89 300v-1.6M263.89 238.4v1.6M269.01 300v-1.1M269.01 238.4v1.1M274.13 300v-1.1M274.13 238.4v1.1M279.25 300v-1.1M279.25 238.4v1.1M284.37 300v-1.6M284.37 238.4v1.6M289.5 300v-1.1M289.5 238.4v1.1M294.62 300v-1.1M294.62 238.4v1.1M299.74 300v-1.1M299.74 238.4v1.1M304.86 300v-1.6M304.86 238.4v1.6M309.98 300v-1.1M309.98 238.4v1.1M315.11 300v-1.1M315.11 238.4v1.1M320.23 300v-1.1M320.23 238.4v1.1M325.35 300v-1.6M325.35 238.4v1.6M330.47 300v-1.1M330.47 238.4v1.1M335.59 300v-1.1M335.59 238.4v1.1M340.71 300v-1.1M340.71 238.4v1.1M243.4 300h1.6M344.3 300h-1.6M243.4 289.33h1.6M344.3 289.33h-1.6M243.4 278.67h1.6M344.3 278.67h-1.6M243.4 268h1.6M344.3 268h-1.6M243.4 257.33h1.6M344.3 257.33h-1.6M243.4 246.67h1.6M344.3 246.67h-1.6" stroke="#111" stroke-width="0.9" fill="none"/><text x="242.8" y="301.8" text-anchor="end" fill="#555" style="font-size:5.3px;">0.00</text><text x="242.8" y="291.13" text-anchor="end" fill="#555" style="font-size:5.3px;">0.02</text><text x="242.8" y="280.47" text-anchor="end" fill="#555" style="font-size:5.3px;">0.04</text><text x="242.8" y="269.8" text-anchor="end" fill="#555" style="font-size:5.3px;">0.06</text><text x="242.8" y="259.13" text-anchor="end" fill="#555" style="font-size:5.3px;">0.08</text><text x="242.8" y="248.47" text-anchor="end" fill="#555" style="font-size:5.3px;">0.10</text><text x="243.4" y="305.5" text-anchor="middle" fill="#555" style="font-size:5.3px;">0</text><text x="263.89" y="305.5" text-anchor="middle" fill="#555" style="font-size:5.3px;">200</text><text x="284.37" y="305.5" text-anchor="middle" fill="#555" style="font-size:5.3px;">400</text><text x="304.86" y="305.5" text-anchor="middle" fill="#555" style="font-size:5.3px;">600</text><text x="325.35" y="305.5" text-anchor="middle" fill="#555" style="font-size:5.3px;">800</text><circle cx="243.6" cy="299.52" r="1.2" fill="none" stroke="#4f525a" stroke-width="0.7"/><circle cx="245.7" cy="297" r="1.2" fill="none" stroke="#4f525a" stroke-width="0.7"/><circle cx="247.8" cy="295.16" r="1.2" fill="none" stroke="#4f525a" stroke-width="0.7"/><circle cx="249.9" cy="293.19" r="1.2" fill="none" stroke="#4f525a" stroke-width="0.7"/><circle cx="252" cy="289.6" r="1.2" fill="none" stroke="#4f525a" stroke-width="0.7"/><circle cx="254.1" cy="285.7" r="1.2" fill="none" stroke="#4f525a" stroke-width="0.7"/><circle cx="256.2" cy="281.46" r="1.2" fill="none" stroke="#4f525a" stroke-width="0.7"/><circle cx="258.3" cy="276.93" r="1.2" fill="none" stroke="#4f525a" stroke-width="0.7"/><circle cx="260.4" cy="272.89" r="1.2" fill="none" stroke="#4f525a" stroke-width="0.7"/><circle cx="262.5" cy="266.38" r="1.2" fill="none" stroke="#4f525a" stroke-width="0.7"/><circle cx="264.6" cy="260.4" r="1.2" fill="none" stroke="#4f525a" stroke-width="0.7"/><circle cx="266.7" cy="256.12" r="1.2" fill="none" stroke="#4f525a" stroke-width="0.7"/><circle cx="268.8" cy="251.72" r="1.2" fill="none" stroke="#4f525a" stroke-width="0.7"/><circle cx="270.9" cy="247.94" r="1.2" fill="none" stroke="#4f525a" stroke-width="0.7"/><circle cx="273" cy="245.2" r="1.2" fill="none" stroke="#4f525a" stroke-width="0.7"/><circle cx="275.1" cy="243.01" r="1.2" fill="none" stroke="#4f525a" stroke-width="0.7"/><circle cx="277.2" cy="241.13" r="1.2" fill="none" stroke="#4f525a" stroke-width="0.7"/><circle cx="279.3" cy="239.7" r="1.2" fill="none" stroke="#4f525a" stroke-width="0.7"/><circle cx="281.4" cy="238.9" r="1.2" fill="none" stroke="#4f525a" stroke-width="0.7"/><circle cx="283.5" cy="239.09" r="1.2" fill="none" stroke="#4f525a" stroke-width="0.7"/><circle cx="285.6" cy="240.02" r="1.2" fill="none" stroke="#4f525a" stroke-width="0.7"/><circle cx="287.7" cy="241.12" r="1.2" fill="none" stroke="#4f525a" stroke-width="0.7"/><circle cx="289.8" cy="242.31" r="1.2" fill="none" stroke="#4f525a" stroke-width="0.7"/><circle cx="291.9" cy="243.9" r="1.2" fill="none" stroke="#4f525a" stroke-width="0.7"/><circle cx="294" cy="246.65" r="1.2" fill="none" stroke="#4f525a" stroke-width="0.7"/><circle cx="296.1" cy="249.68" r="1.2" fill="none" stroke="#4f525a" stroke-width="0.7"/><circle cx="298.2" cy="252.52" r="1.2" fill="none" stroke="#4f525a" stroke-width="0.7"/><circle cx="300.3" cy="254.75" r="1.2" fill="none" stroke="#4f525a" stroke-width="0.7"/><circle cx="302.4" cy="256.85" r="1.2" fill="none" stroke="#4f525a" stroke-width="0.7"/><circle cx="304.5" cy="259.51" r="1.2" fill="none" stroke="#4f525a" stroke-width="0.7"/><circle cx="306.6" cy="262.08" r="1.2" fill="none" stroke="#4f525a" stroke-width="0.7"/><circle cx="308.7" cy="264.55" r="1.2" fill="none" stroke="#4f525a" stroke-width="0.7"/><circle cx="310.8" cy="267" r="1.2" fill="none" stroke="#4f525a" stroke-width="0.7"/><circle cx="312.9" cy="269.06" r="1.2" fill="none" stroke="#4f525a" stroke-width="0.7"/><circle cx="315" cy="271.12" r="1.2" fill="none" stroke="#4f525a" stroke-width="0.7"/><circle cx="317.1" cy="273.01" r="1.2" fill="none" stroke="#4f525a" stroke-width="0.7"/><circle cx="319.2" cy="274.78" r="1.2" fill="none" stroke="#4f525a" stroke-width="0.7"/><circle cx="321.3" cy="276.5" r="1.2" fill="none" stroke="#4f525a" stroke-width="0.7"/><circle cx="323.4" cy="277.87" r="1.2" fill="none" stroke="#4f525a" stroke-width="0.7"/><circle cx="325.5" cy="279.24" r="1.2" fill="none" stroke="#4f525a" stroke-width="0.7"/><circle cx="327.6" cy="280.66" r="1.2" fill="none" stroke="#4f525a" stroke-width="0.7"/><circle cx="329.7" cy="282.1" r="1.2" fill="none" stroke="#4f525a" stroke-width="0.7"/><circle cx="331.8" cy="283.44" r="1.2" fill="none" stroke="#4f525a" stroke-width="0.7"/><circle cx="333.9" cy="284.45" r="1.2" fill="none" stroke="#4f525a" stroke-width="0.7"/><circle cx="336" cy="285.46" r="1.2" fill="none" stroke="#4f525a" stroke-width="0.7"/><circle cx="338.1" cy="286.39" r="1.2" fill="none" stroke="#4f525a" stroke-width="0.7"/><circle cx="340.2" cy="287.3" r="1.2" fill="none" stroke="#4f525a" stroke-width="0.7"/><circle cx="342.3" cy="288.21" r="1.2" fill="none" stroke="#4f525a" stroke-width="0.7"/><text x="265.8" y="292.9" style="font-size:9.2px;font-style:italic;font-weight:bold" fill="#222">C</text><text x="271" y="294.5" style="font-size:6.62px" fill="#333">1</text><path d="M243.9 310.1H345.4V372.7" fill="none" stroke="#4a4a4a" stroke-width="0.9"/><path d="M243.9 310.1V372.7H345.4" fill="none" stroke="#2a2a2a" stroke-width="1"/><path d="M243.9 372.7v-1.6M243.9 310.1v1.6M246.8 372.7v-1.1M246.8 310.1v1.1M249.7 372.7v-1.1M249.7 310.1v1.1M252.6 372.7v-1.1M252.6 310.1v1.1M255.5 372.7v-1.1M255.5 310.1v1.1M258.4 372.7v-1.6M258.4 310.1v1.6M261.3 372.7v-1.1M261.3 310.1v1.1M264.2 372.7v-1.1M264.2 310.1v1.1M267.1 372.7v-1.1M267.1 310.1v1.1M270 372.7v-1.1M270 310.1v1.1M272.9 372.7v-1.6M272.9 310.1v1.6M275.8 372.7v-1.1M275.8 310.1v1.1M278.7 372.7v-1.1M278.7 310.1v1.1M281.6 372.7v-1.1M281.6 310.1v1.1M284.5 372.7v-1.1M284.5 310.1v1.1M287.4 372.7v-1.6M287.4 310.1v1.6M290.3 372.7v-1.1M290.3 310.1v1.1M293.2 372.7v-1.1M293.2 310.1v1.1M296.1 372.7v-1.1M296.1 310.1v1.1M299 372.7v-1.1M299 310.1v1.1M301.9 372.7v-1.6M301.9 310.1v1.6M304.8 372.7v-1.1M304.8 310.1v1.1M307.7 372.7v-1.1M307.7 310.1v1.1M310.6 372.7v-1.1M310.6 310.1v1.1M313.5 372.7v-1.1M313.5 310.1v1.1M316.4 372.7v-1.6M316.4 310.1v1.6M319.3 372.7v-1.1M319.3 310.1v1.1M322.2 372.7v-1.1M322.2 310.1v1.1M325.1 372.7v-1.1M325.1 310.1v1.1M328 372.7v-1.1M328 310.1v1.1M330.9 372.7v-1.6M330.9 310.1v1.6M333.8 372.7v-1.1M333.8 310.1v1.1M336.7 372.7v-1.1M336.7 310.1v1.1M339.6 372.7v-1.1M339.6 310.1v1.1M342.5 372.7v-1.1M342.5 310.1v1.1M345.4 372.7v-1.6M345.4 310.1v1.6M243.9 372.7h1.6M345.4 372.7h-1.6M243.9 358.63h1.6M345.4 358.63h-1.6M243.9 344.57h1.6M345.4 344.57h-1.6M243.9 330.5h1.6M345.4 330.5h-1.6M243.9 316.43h1.6M345.4 316.43h-1.6" stroke="#111" stroke-width="0.9" fill="none"/><text x="243.3" y="374.5" text-anchor="end" fill="#555" style="font-size:5.3px;">0.00</text><text x="243.3" y="360.43" text-anchor="end" fill="#555" style="font-size:5.3px;">0.02</text><text x="243.3" y="346.37" text-anchor="end" fill="#555" style="font-size:5.3px;">0.04</text><text x="243.3" y="332.3" text-anchor="end" fill="#555" style="font-size:5.3px;">0.06</text><text x="243.3" y="318.23" text-anchor="end" fill="#555" style="font-size:5.3px;">0.08</text><text x="243.9" y="378.5" text-anchor="middle" fill="#555" style="font-size:5.3px;">0</text><text x="258.4" y="378.5" text-anchor="middle" fill="#555" style="font-size:5.3px;">50</text><text x="272.9" y="378.5" text-anchor="middle" fill="#555" style="font-size:5.3px;">100</text><text x="287.4" y="378.5" text-anchor="middle" fill="#555" style="font-size:5.3px;">150</text><text x="301.9" y="378.5" text-anchor="middle" fill="#555" style="font-size:5.3px;">200</text><text x="316.4" y="378.5" text-anchor="middle" fill="#555" style="font-size:5.3px;">250</text><text x="330.9" y="378.5" text-anchor="middle" fill="#555" style="font-size:5.3px;">300</text><text x="345.4" y="378.5" text-anchor="middle" fill="#555" style="font-size:5.3px;">350</text><g fill="none" stroke="#2e3038" stroke-width="0.8"><circle cx="249.3" cy="312.5" r="1.15"/><circle cx="250.03" cy="313.69" r="1.15"/><circle cx="250.76" cy="314.89" r="1.15"/><circle cx="251.49" cy="316.08" r="1.15"/><circle cx="252.22" cy="317.28" r="1.15"/><circle cx="252.95" cy="318.47" r="1.15"/><circle cx="253.74" cy="319.63" r="1.15"/><circle cx="254.62" cy="320.72" r="1.15"/><circle cx="255.49" cy="321.81" r="1.15"/><circle cx="256.36" cy="322.91" r="1.15"/><circle cx="257.24" cy="324" r="1.15"/><circle cx="258.35" cy="324.84" r="1.15"/><circle cx="259.51" cy="325.62" r="1.15"/><circle cx="260.67" cy="326.4" r="1.15"/><circle cx="261.83" cy="327.18" r="1.15"/><circle cx="263" cy="327.96" r="1.15"/><circle cx="264.06" cy="328.86" r="1.15"/><circle cx="265.05" cy="329.85" r="1.15"/><circle cx="266.04" cy="330.84" r="1.15"/><circle cx="267.03" cy="331.83" r="1.15"/><circle cx="268.02" cy="332.82" r="1.15"/><circle cx="269.01" cy="333.81" r="1.15"/><circle cx="270.13" cy="334.62" r="1.15"/><circle cx="271.38" cy="335.25" r="1.15"/><circle cx="272.63" cy="335.89" r="1.15"/><circle cx="273.87" cy="336.52" r="1.15"/><circle cx="275.12" cy="337.16" r="1.15"/><circle cx="276.34" cy="337.84" r="1.15"/><circle cx="277.55" cy="338.55" r="1.15"/><circle cx="278.75" cy="339.26" r="1.15"/><circle cx="279.96" cy="339.98" r="1.15"/><circle cx="281.14" cy="340.74" r="1.15"/><circle cx="282.31" cy="341.5" r="1.15"/><circle cx="283.48" cy="342.26" r="1.15"/><circle cx="284.65" cy="343.03" r="1.15"/><circle cx="285.82" cy="343.81" r="1.15"/><circle cx="286.98" cy="344.59" r="1.15"/><circle cx="288.26" cy="345.13" r="1.15"/><circle cx="289.58" cy="345.59" r="1.15"/><circle cx="290.91" cy="346.05" r="1.15"/><circle cx="292.23" cy="346.51" r="1.15"/><circle cx="293.55" cy="346.97" r="1.15"/><circle cx="294.84" cy="347.49" r="1.15"/><circle cx="296.07" cy="348.18" r="1.15"/><circle cx="297.29" cy="348.86" r="1.15"/><circle cx="298.51" cy="349.55" r="1.15"/><circle cx="299.73" cy="350.24" r="1.15"/><circle cx="300.95" cy="350.92" r="1.15"/><circle cx="302.21" cy="351.5" r="1.15"/><circle cx="303.57" cy="351.85" r="1.15"/><circle cx="304.92" cy="352.2" r="1.15"/><circle cx="306.28" cy="352.55" r="1.15"/><circle cx="307.63" cy="352.89" r="1.15"/><circle cx="308.99" cy="353.24" r="1.15"/><circle cx="310.35" cy="353.59" r="1.15"/><circle cx="311.7" cy="353.94" r="1.15"/><circle cx="313.06" cy="354.28" r="1.15"/><circle cx="314.4" cy="354.69" r="1.15"/><circle cx="315.7" cy="355.19" r="1.15"/><circle cx="317.01" cy="355.69" r="1.15"/><circle cx="318.32" cy="356.19" r="1.15"/><circle cx="319.63" cy="356.69" r="1.15"/><circle cx="320.94" cy="357.18" r="1.15"/><circle cx="322.25" cy="357.68" r="1.15"/><circle cx="323.55" cy="358.18" r="1.15"/><circle cx="324.92" cy="358.46" r="1.15"/><circle cx="326.3" cy="358.73" r="1.15"/><circle cx="327.67" cy="359" r="1.15"/><circle cx="329.05" cy="359.27" r="1.15"/><circle cx="330.42" cy="359.54" r="1.15"/><circle cx="331.79" cy="359.81" r="1.15"/><circle cx="333.17" cy="360.08" r="1.15"/><circle cx="334.54" cy="360.35" r="1.15"/><circle cx="335.91" cy="360.62" r="1.15"/><circle cx="337.28" cy="360.91" r="1.15"/><circle cx="338.66" cy="361.19" r="1.15"/><circle cx="340.03" cy="361.47" r="1.15"/><circle cx="341.4" cy="361.76" r="1.15"/><circle cx="342.77" cy="362.04" r="1.15"/><circle cx="344.14" cy="362.32" r="1.15"/></g><circle cx="247.3" cy="321.2" r="1.2" fill="none" stroke="#4f525a" stroke-width="0.7"/><circle cx="247.3" cy="336.4" r="1.2" fill="none" stroke="#4f525a" stroke-width="0.7"/><circle cx="246.3" cy="353.5" r="1.2" fill="none" stroke="#4f525a" stroke-width="0.7"/><circle cx="245.3" cy="364.6" r="1.2" fill="none" stroke="#4f525a" stroke-width="0.7"/><circle cx="244.5" cy="370.5" r="1.2" fill="none" stroke="#4f525a" stroke-width="0.7"/><text x="265.8" y="366.9" style="font-size:9.2px;font-style:italic;font-weight:bold" fill="#222">C</text><text x="271" y="368.5" style="font-size:6.62px" fill="#333">1</text><text x="271.3" y="393.0" style="font-size:12px" stroke="#000" stroke-width="0.25">timestep</text><text transform="translate(226.7,197) rotate(-90)" text-anchor="middle" style="font-family:&quot;Liberation Sans&quot;,sans-serif;font-size:10.8px;font-style:italic;letter-spacing:1.5px" fill="#111" stroke="#111" stroke-width="0.4">I/N</text><text transform="translate(228,266.2) rotate(-90)" text-anchor="middle" style="font-family:&quot;Liberation Sans&quot;,sans-serif;font-size:10.8px;font-style:italic;letter-spacing:1.5px" fill="#111" stroke="#111" stroke-width="0.4">I/N</text><text transform="translate(227.7,340.8) rotate(-90)" text-anchor="middle" style="font-family:&quot;Liberation Sans&quot;,sans-serif;font-size:10.8px;font-style:italic;letter-spacing:1.5px" fill="#111" stroke="#111" stroke-width="0.4">I/N</text></svg></body></html>
